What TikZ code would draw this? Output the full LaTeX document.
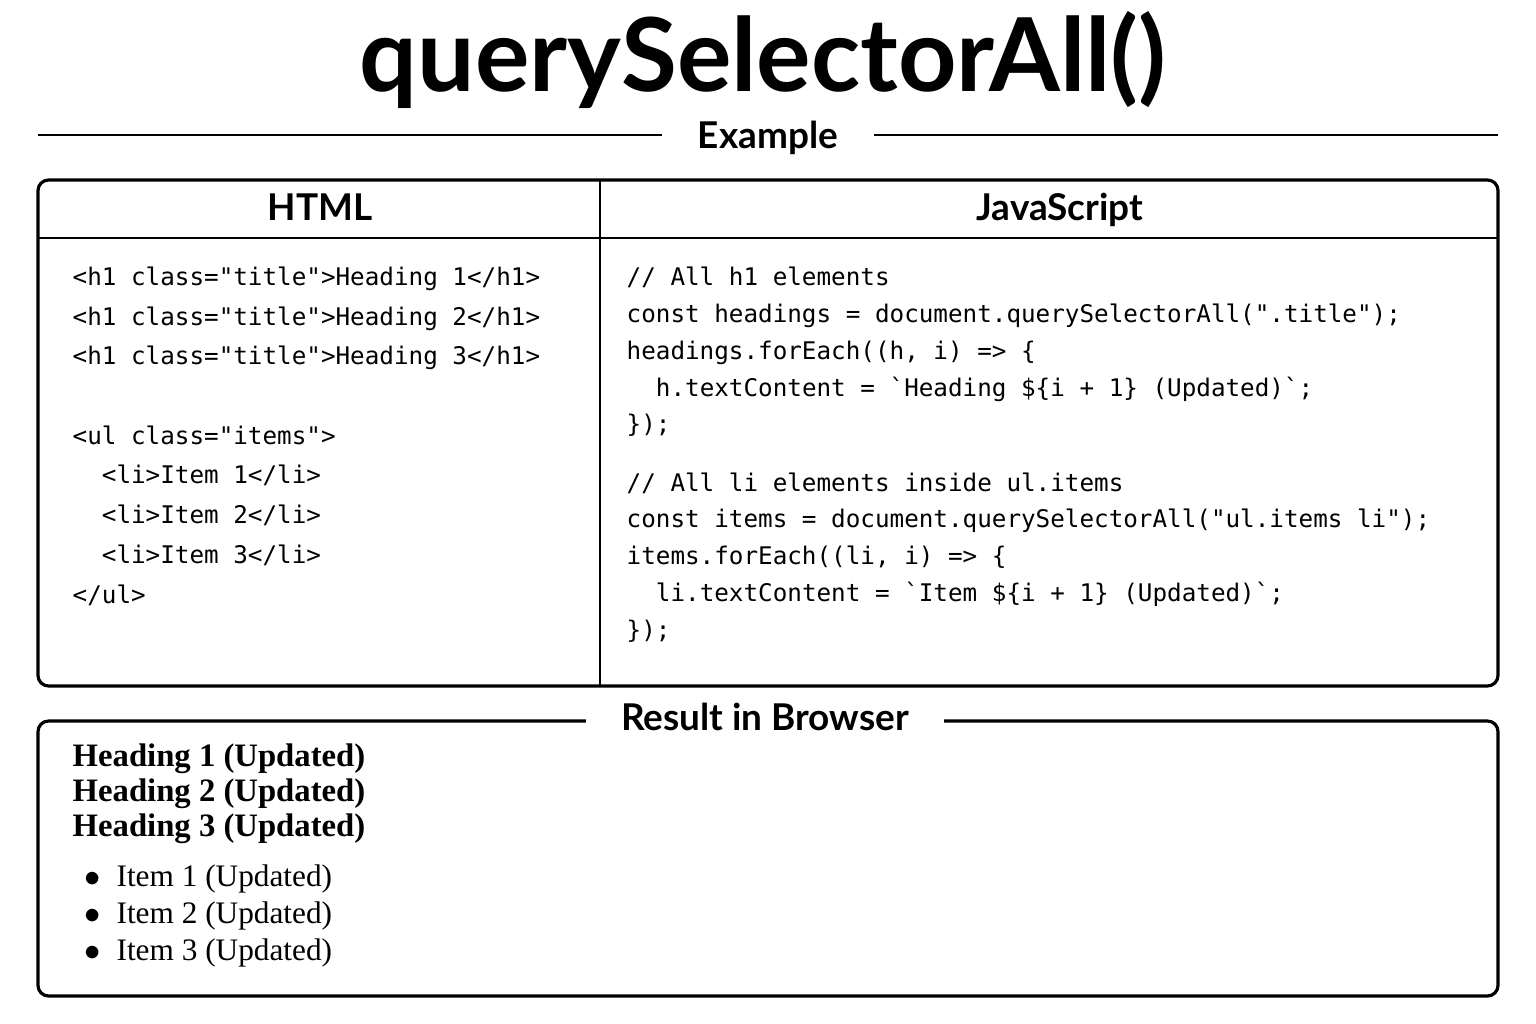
\documentclass[tikz,border=0pt]{standalone}
\usepackage{fontspec}
\setsansfont{Lato}
\setmonofont{DejaVu Sans Mono}
\setmainfont{Liberation Serif}
\usetikzlibrary{positioning}

\tikzset{
  frame/.style={line width=0.9pt,rounded corners=3pt},
  rule/.style={line width=0.75pt},
  head/.style={font=\sffamily\bfseries\fontsize{10.5}{12}\selectfont,anchor=base},
  code/.style={font=\ttfamily\fontsize{6.9}{11.3}\selectfont,align=left,anchor=north west,inner sep=0pt},
  result/.style={font=\fontsize{8.9}{10}\selectfont,align=left,anchor=north west,inner sep=0pt},
}

\begin{document}
\begin{tikzpicture}[x=0.01cm,y=-0.01cm]
  \useasboundingbox (0,0) rectangle (1536,1024);
  % title
  \node[font=\sffamily\bfseries\fontsize{29}{31}\selectfont] (title) at (763,60) {querySelectorAll()};
  \node[head,fill=white,inner xsep=10pt] (example) at (768,148) {Example};
  \coordinate (exL) at (38,135);
  \coordinate (exR) at (1498,135);
  \draw[rule] (exL) -- (exL -| example.west);
  \draw[rule] (exR -| example.east) -- (exR);
  % code box
  \draw[frame] (38,180) rectangle (1498,686);
  \draw[rule] (38,238) -- (1498,238);
  \draw[rule] (600,180) -- (600,686);
  \node[head] (html) at (320,220) {HTML};
  \node[head] (js) at (1060,220) {JavaScript};
  \node[code] (htmlcode) at (72,266) {%
<h1 class="title">Heading 1</h1>\\
<h1 class="title">Heading 2</h1>\\
<h1 class="title">Heading 3</h1>\\[11.3pt]
<ul class="items">\\
\ \ <li>Item 1</li>\\
\ \ <li>Item 2</li>\\
\ \ <li>Item 3</li>\\
</ul>};
  \node[code,font=\ttfamily\fontsize{6.9}{10.5}\selectfont] (jscode) at (626,266) {%
// All h1 elements\\
const headings = document.querySelectorAll(".title");\\
headings.forEach((h, i) => \{\\
\ \ h.textContent = `Heading \$\{i + 1\} (Updated)`;\\
\});\\[6pt]
// All li elements inside ul.items\\
const items = document.querySelectorAll("ul.items li");\\
items.forEach((li, i) => \{\\
\ \ li.textContent = `Item \$\{i + 1\} (Updated)`;\\
\});};
  % result box
  \draw[frame] (38,721) rectangle (1498,996);
  \node[head,fill=white,inner xsep=10pt] (res) at (765,730) {Result in Browser};
  \node[result,font=\bfseries\fontsize{9.3}{10}\selectfont] (heads) at (72,743) {%
Heading 1 (Updated)\\
Heading 2 (Updated)\\
Heading 3 (Updated)};
  \node[result,font=\fontsize{8.9}{10.6}\selectfont] (items) at (84,864) {%
$\bullet$\ \ Item 1 (Updated)\\
$\bullet$\ \ Item 2 (Updated)\\
$\bullet$\ \ Item 3 (Updated)};
\end{tikzpicture}
\end{document}
